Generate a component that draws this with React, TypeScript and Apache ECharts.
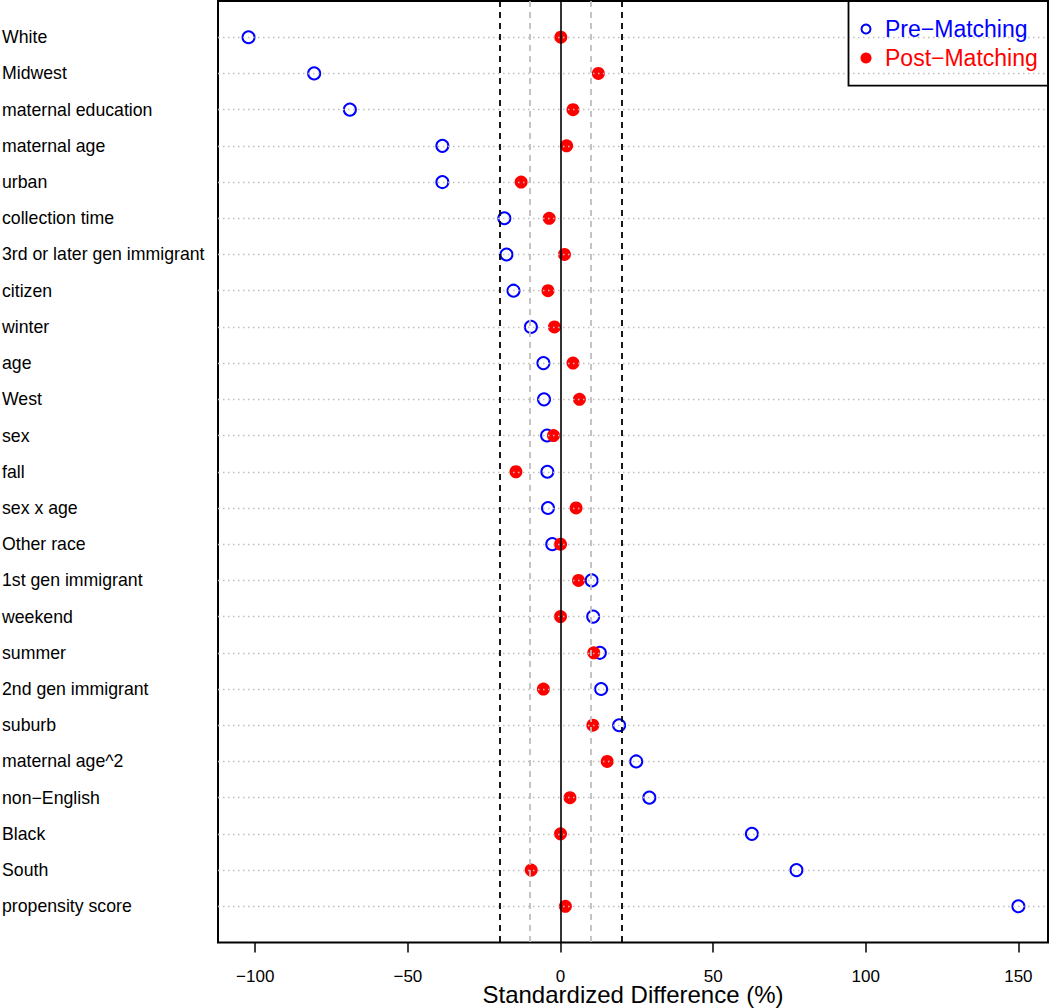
import React, { useEffect, useRef } from "react";
import * as echarts from "echarts";

const variables = [
  "White",
  "Midwest",
  "maternal education",
  "maternal age",
  "urban",
  "collection time",
  "3rd or later gen immigrant",
  "citizen",
  "winter",
  "age",
  "West",
  "sex",
  "fall",
  "sex x age",
  "Other race",
  "1st gen immigrant",
  "weekend",
  "summer",
  "2nd gen immigrant",
  "suburb",
  "maternal age^2",
  "non\u2212English",
  "Black",
  "South",
  "propensity score",
];

const preMatching = [
  -102.2, -80.7, -69.0, -38.7, -38.7, -18.4, -17.7, -15.4, -9.7, -5.6, -5.4, -4.4, -4.3, -4.1, -2.7,
  10.2, 10.7, 12.9, 13.3, 19.2, 24.8, 29.1, 62.7, 77.3, 150.0,
];

const postMatching = [
  0.1, 12.4, 4.1, 2.0, -12.9, -3.7, 1.3, -4.1, -2.0, 4.1, 6.2, -2.3, -14.6, 5.1, 0.0,
  5.9, 0.0, 10.9, -5.6, 10.6, 15.3, 3.1, 0.0, -9.6, 1.6,
];

const xTicks = [-100, -50, 0, 50, 100, 150];
const blackDashed = [-20, 20];
const greyDashed = [-10, 10];
const solidLine = [0];

const FONT = "'Liberation Sans', Arial, Helvetica, sans-serif";

export default function App() {
  const ref = useRef<HTMLDivElement>(null);

  useEffect(() => {
    document.body.style.margin = "0";
    if (!ref.current) return;
    const chart = echarts.init(ref.current, undefined, { renderer: "svg" });
    const n = variables.length;

    const option: any = {
      animation: false,
      backgroundColor: "#ffffff",
      textStyle: { fontFamily: FONT },
      grid: {
        left: 218,
        right: 2,
        top: 1,
        bottom: 65.5,
        show: true,
        borderColor: "#000000",
        borderWidth: 2,
        backgroundColor: "transparent",
        containLabel: false,
        outerBoundsMode: "none",
      },
      xAxis: {
        type: "value",
        min: -112.2,
        max: 159.7,
        position: "bottom",
        axisLine: { show: false, onZero: false },
        splitLine: { show: false },
        axisTick: {
          show: true,
          inside: false,
          length: 10,
          customValues: xTicks,
          lineStyle: { color: "#000000", width: 1.5 },
        },
        axisLabel: {
          show: true,
          customValues: xTicks,
          margin: 26.5,
          fontSize: 17,
          lineHeight: 14,
          color: "#000000",
          fontFamily: FONT,
          formatter: (v: number) => (v < 0 ? "\u2212" + Math.abs(v) : String(v)),
        },
        name: "Standardized Difference (%)",
        nameLocation: "middle",
        nameGap: 42,
        nameMoveOverlap: false,
        nameTextStyle: { fontSize: 24, lineHeight: 20, color: "#000000", fontFamily: FONT },
      },
      yAxis: {
        type: "value",
        min: 0,
        max: n + 1,
        interval: 1,
        inverse: true,
        axisLine: { show: false, onZero: false },
        axisTick: { show: false },
        splitLine: { show: false },
        axisLabel: {
          show: true,
          align: "left",
          margin: 216,
          fontSize: 17.7,
          color: "#000000",
          fontFamily: FONT,
          formatter: (v: number) => (v >= 1 && v <= n ? variables[v - 1] : ""),
        },
      },
      series: [
        {
          name: "guides",
          type: "scatter",
          data: [],
          z: 1,
          silent: true,
          markLine: {
            silent: true,
            symbol: ["none", "none"],
            label: { show: false },
            animation: false,
            data: [
              ...variables.map((_, i) => ({
                yAxis: i + 1,
                lineStyle: { color: "#bebebe", width: 1.3, type: [1.5, 3.5] },
              })),
              ...greyDashed.map((v) => ({
                xAxis: v,
                lineStyle: { color: "#bebebe", width: 1.8, type: [6, 5] },
              })),
              ...blackDashed.map((v) => ({
                xAxis: v,
                lineStyle: { color: "#000000", width: 1.8, type: [6, 5] },
              })),
              ...solidLine.map((v) => ({
                xAxis: v,
                lineStyle: { color: "#000000", width: 1.6, type: "solid" },
              })),
            ],
          },
        },
        {
          name: "Pre\u2212Matching",
          type: "scatter",
          z: 3,
          symbol: "circle",
          symbolSize: 12,
          itemStyle: { color: "rgba(0,0,0,0)", borderColor: "#0000ff", borderWidth: 2, opacity: 1 },
          data: preMatching.map((v, i) => [v, i + 1]),
        },
        {
          name: "Post\u2212Matching",
          type: "scatter",
          z: 4,
          symbol: "circle",
          symbolSize: 13,
          itemStyle: { color: "#ff0000", opacity: 1 },
          data: postMatching.map((v, i) => [v, i + 1]),
        },
      ],
      graphic: [
        {
          type: "rect",
          z: 10,
          shape: { x: 848.5, y: 1, width: 199.5, height: 84.7 },
          style: { fill: "none", stroke: "#000000", lineWidth: 1.8 },
        },
        {
          type: "circle",
          z: 10,
          shape: { cx: 866, cy: 29, r: 4.5 },
          style: { fill: "none", stroke: "#0000ff", lineWidth: 2 },
        },
        {
          type: "circle",
          z: 10,
          shape: { cx: 866, cy: 58, r: 5.5 },
          style: { fill: "#ff0000" },
        },
        {
          type: "text",
          z: 10,
          x: 885,
          y: 29,
          style: {
            text: "Pre\u2212Matching",
            fill: "#0000ff",
            font: `23px ${FONT}`,
            verticalAlign: "middle",
            align: "left",
          },
        },
        {
          type: "text",
          z: 10,
          x: 885,
          y: 58,
          style: {
            text: "Post\u2212Matching",
            fill: "#ff0000",
            font: `23px ${FONT}`,
            verticalAlign: "middle",
            align: "left",
          },
        },
      ],
    };

    chart.setOption(option);
    return () => chart.dispose();
  }, []);

  return <div ref={ref} style={{ width: 1050, height: 1008 }} />;
}
